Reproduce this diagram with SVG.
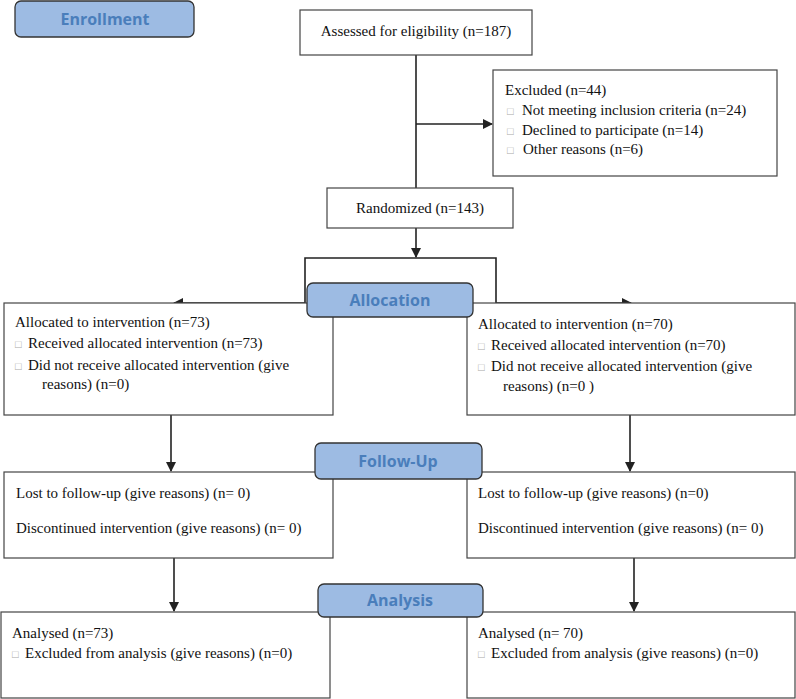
<svg xmlns="http://www.w3.org/2000/svg" width="796" height="699" viewBox="0 0 796 699">
<style>
.box{fill:#fff;stroke:#444;stroke-width:1.2}
.lab rect{fill:#9dbbe3;stroke:#333;stroke-width:1.3}
.lab text{font-family:"Open Sans","Noto Sans",sans-serif;font-weight:bold;font-size:16px;fill:#4a7ebb;text-anchor:middle}
.t{font-family:"Liberation Serif","Times New Roman",serif;font-size:15px;fill:#111}
.c{text-anchor:middle}
.sq{fill:#aaa;font-size:11px}
.ln{fill:none;stroke:#222;stroke-width:1.6}
</style>
<defs>
<marker id="ah" viewBox="0 0 10 10" refX="9" refY="5" markerWidth="10" markerHeight="10" markerUnits="userSpaceOnUse" orient="auto">
<path d="M0,0 L10,5 L0,10 z" fill="#222"/>
</marker>
</defs>
<g id="connectors">
<path class="ln" d="M416,55 V193"/>
<path class="ln" d="M416,124 H492" marker-end="url(#ah)"/>
<path class="ln" d="M416,228 V257" marker-end="url(#ah)"/>
<path class="ln" d="M305,303 V258 H496 V303"/>
<path class="ln" d="M305,303 H174" marker-end="url(#ah)"/>
<path class="ln" d="M496,303 H631" marker-end="url(#ah)"/>
<path class="ln" d="M171,415 V471" marker-end="url(#ah)"/>
<path class="ln" d="M630,415 V471" marker-end="url(#ah)"/>
<path class="ln" d="M174,558 V611" marker-end="url(#ah)"/>
<path class="ln" d="M634,558 V611" marker-end="url(#ah)"/>
</g>
<g id="enrollment" class="lab"><rect x="15" y="1" width="179" height="36" rx="6"/><text x="105" y="25">Enrollment</text></g>
<g id="assessed"><rect class="box" x="300" y="10" width="232" height="45"/><text class="t c" x="416" y="36">Assessed for eligibility (n=187)</text></g>
<g id="excluded"><rect class="box" x="493" y="70" width="284" height="106"/>
<text class="t" x="505" y="95">Excluded (n=44)</text>
<text class="t" y="115"><tspan class="sq" x="507">□</tspan><tspan x="522">Not meeting inclusion criteria (n=24)</tspan></text>
<text class="t" y="135"><tspan class="sq" x="507">□</tspan><tspan x="522">Declined to participate (n=14)</tspan></text>
<text class="t" y="154"><tspan class="sq" x="507">□</tspan><tspan x="523">Other reasons (n=6)</tspan></text>
</g>
<g id="randomized"><rect class="box" x="327" y="188" width="186" height="40"/><text class="t c" x="420" y="213">Randomized (n=143)</text></g>
<g id="alloc-left"><rect class="box" x="4" y="303" width="329" height="112"/>
<text class="t" x="15" y="327">Allocated to intervention (n=73)</text>
<text class="t" y="348"><tspan class="sq" x="15">□</tspan><tspan x="28">Received allocated intervention (n=73)</tspan></text>
<text class="t" y="370"><tspan class="sq" x="15">□</tspan><tspan x="28">Did not receive allocated intervention (give</tspan></text>
<text class="t" x="42" y="389">reasons) (n=0)</text>
</g>
<g id="alloc-right"><rect class="box" x="467" y="303" width="328" height="112"/>
<text class="t" x="478" y="329">Allocated to intervention (n=70)</text>
<text class="t" y="350"><tspan class="sq" x="478">□</tspan><tspan x="491">Received allocated intervention (n=70)</tspan></text>
<text class="t" y="371"><tspan class="sq" x="478">□</tspan><tspan x="491">Did not receive allocated intervention (give</tspan></text>
<text class="t" x="503" y="391">reasons) (n=0 )</text>
</g>
<g id="allocation" class="lab"><rect x="307" y="283" width="166" height="34" rx="6"/><text x="390" y="306">Allocation</text></g>
<g id="follow-left"><rect class="box" x="4" y="472" width="329" height="86"/>
<text class="t" x="16" y="498">Lost to follow-up (give reasons) (n= 0)</text>
<text class="t" x="16" y="533">Discontinued intervention (give reasons) (n= 0)</text>
</g>
<g id="follow-right"><rect class="box" x="467" y="472" width="328" height="86"/>
<text class="t" x="478" y="498">Lost to follow-up (give reasons) (n=0)</text>
<text class="t" x="478" y="533">Discontinued intervention (give reasons) (n= 0)</text>
</g>
<g id="followup" class="lab"><rect x="315" y="443" width="167" height="36" rx="6"/><text x="398" y="467">Follow-Up</text></g>
<g id="analysis-left"><rect class="box" x="1" y="612" width="329" height="86"/>
<text class="t" x="12" y="638">Analysed (n=73)</text>
<text class="t" y="658"><tspan class="sq" x="12">□</tspan><tspan x="25">Excluded from analysis (give reasons) (n=0)</tspan></text>
</g>
<g id="analysis-right"><rect class="box" x="467" y="612" width="328" height="86"/>
<text class="t" x="478" y="638">Analysed (n= 70)</text>
<text class="t" y="658"><tspan class="sq" x="478">□</tspan><tspan x="491">Excluded from analysis (give reasons) (n=0)</tspan></text>
</g>
<g id="analysis" class="lab"><rect x="318" y="584" width="165" height="33" rx="6"/><text x="400" y="606">Analysis</text></g>
</svg>
